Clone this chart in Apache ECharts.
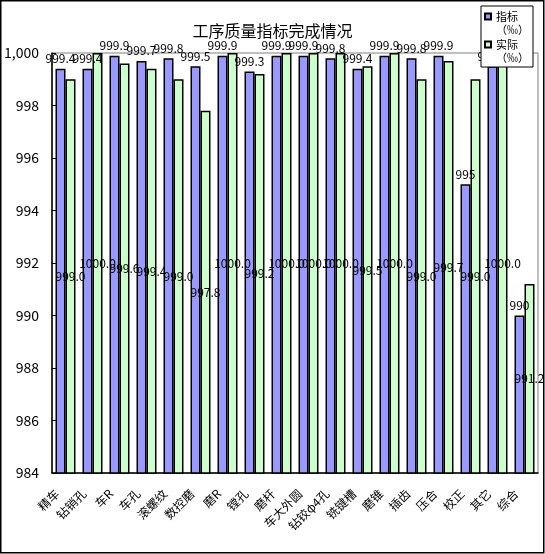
<!DOCTYPE html>
<html>
<head>
<meta charset="utf-8">
<script src="https://cdn.jsdelivr.net/npm/echarts@6/dist/echarts.min.js"></script>
<style>
html,body{margin:0;padding:0;background:#fff;}
#c{width:545px;height:554px;}
</style>
</head>
<body>
<div id="c"></div>
<script>
const categories = ['精车','钻销孔','车R','车孔','滚螺纹','数控磨','磨R','镗孔','磨杆','车大外圆','钻铰φ4孔','铣键槽','磨锥','插齿','压合','校正','其它','综合'];
const targetValues = [999.4,999.4,999.9,999.7,999.8,999.5,999.9,999.3,999.9,999.9,999.8,999.4,999.9,999.8,999.9,995,999.5,990];
const actualValues = [999.0,1000.0,999.6,999.4,999.0,997.8,1000.0,999.2,1000.0,1000.0,1000.0,999.5,1000.0,999.0,999.7,999.0,1000.0,991.2];
const targetLabels = ['999.4','999.4','999.9','999.7','999.8','999.5','999.9','999.3','999.9','999.9','999.8','999.4','999.9','999.8','999.9','995','999.5','990'];
const actualLabels = ['999.0','1000.0','999.6','999.4','999.0','997.8','1000.0','999.2','1000.0','1000.0','1000.0','999.5','1000.0','999.0','999.7','999.0','1000.0','991.2'];
const seriesNames = ['指标','实际'];
const yTicks = {min:984, max:1000, interval:2};

const FONT = '"Noto Sans CJK SC", "DejaVu Sans", sans-serif';
const chart = echarts.init(document.getElementById('c'));
chart.setOption({
  animation:false,
  backgroundColor:'#fff',
  textStyle:{fontFamily:FONT},
  title:{
    text:'工序质量指标完成情况',
    left:'center', top:18,
    textStyle:{fontSize:16,fontWeight:'normal',color:'#000',fontFamily:FONT}
  },
  legend:{
    orient:'vertical',
    right:12, top:6,
    padding:[4,4,3,3],
    itemWidth:6, itemHeight:19, itemGap:2, itemTextGap:3,
    icon:'path://M0,0H6V6H0Z M0,19L0,19',
    backgroundColor:'#fff',
    borderColor:'#000', borderWidth:1,
    borderRadius:0,
    formatter: n => n + '\n（‰）',
    textStyle:{fontSize:11,lineHeight:13,color:'#000',fontFamily:FONT},
    data:seriesNames
  },
  grid:{left:52,right:7,top:53,bottom:81,show:true,borderColor:'#808080',borderWidth:1},
  xAxis:{
    type:'category',
    data:categories,
    axisLine:{lineStyle:{color:'#000',width:1.5}},
    axisTick:{inside:true,length:4,lineStyle:{color:'#000'}},
    axisLabel:{rotate:45,margin:10,padding:[0,12,0,0],fontSize:12,color:'#000',interval:0,fontFamily:FONT}
  },
  yAxis:{
    type:'value',
    min:yTicks.min,max:yTicks.max,interval:yTicks.interval,
    splitLine:{show:false},
    axisLine:{show:true,lineStyle:{color:'#000',width:1.5}},
    axisTick:{show:true,inside:true,length:4,lineStyle:{color:'#000'}},
    axisLabel:{fontSize:14,color:'#000',margin:13,fontFamily:FONT}
  },
  series:[
    {
      name:seriesNames[0], type:'bar',
      data:targetValues,
      barGap:'0%', barCategoryGap:'26%',
      itemStyle:{color:'#9999FF',borderColor:'#000',borderWidth:1.5},
      label:{show:true,position:'top',distance:4,fontSize:12,color:'#000',fontFamily:FONT,
        formatter:p=>targetLabels[p.dataIndex]}
    },
    {
      name:seriesNames[1], type:'bar',
      data:actualValues,
      barGap:'0%', barCategoryGap:'26%',
      itemStyle:{color:'#CCFFCC',borderColor:'#000',borderWidth:1.5},
      label:{show:true,position:'inside',fontSize:12,color:'#000',fontFamily:FONT,
        formatter:p=>actualLabels[p.dataIndex]}
    }
  ],
  graphic:[{
    type:'rect',
    shape:{x:0.75,y:0.75,width:543,height:552},
    style:{fill:null,stroke:'#000',lineWidth:1.5},
    silent:true,z:100
  }]
});
</script>
</body>
</html>
